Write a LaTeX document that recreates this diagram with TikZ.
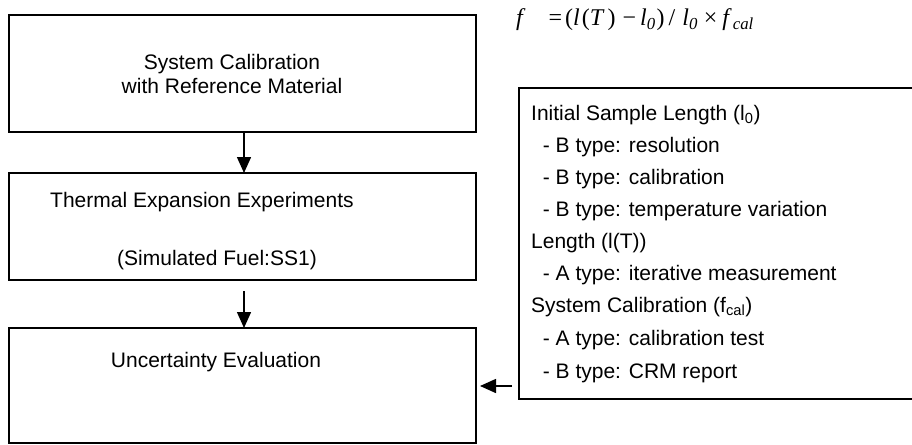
\documentclass[tikz,border=0pt]{standalone}
\usepackage{fontspec}
\setmainfont{Liberation Sans}
\newfontfamily\formfont{Liberation Serif}
\usetikzlibrary{arrows.meta}
\tikzset{
  box/.style={draw, line width=1.5pt, inner sep=0pt, outer sep=0pt},
  lbl/.style={inner sep=0pt, font=\fontsize{21}{24}\selectfont},
  arr/.style={line width=1.5pt, -{Triangle[width=14pt,length=16pt]}}
}
\begin{document}
\begin{tikzpicture}[x=1pt,y=-1pt]
\useasboundingbox (0,0) rectangle (912,444);
% left boxes
\node[box, minimum width=467pt, minimum height=117pt] (b1) at (242.5,73.5) {};
\node[box, minimum width=467pt, minimum height=107pt] (b2) at (242.5,226.5) {};
\node[box, minimum width=467pt, minimum height=115pt] (b3) at (242.5,385.5) {};
% texts of left boxes
\node[lbl, align=center, font=\fontsize{21}{23.5}\selectfont, anchor=base] (t1) at (232,93) {System Calibration\\with Reference Material};
\node[lbl, anchor=base west] (t2) at (50,207) {Thermal Expansion Experiments};
\node[lbl, anchor=base] (t3) at (217,265) {(Simulated Fuel:SS1)};
\node[lbl, anchor=base] (t4) at (216,367) {Uncertainty Evaluation};
% right box
\node[box, minimum width=420pt, minimum height=311pt] (notes) at (729,243.5) {};
\node[lbl, anchor=base west] (n1) at (531,120) {Initial Sample Length (l\textsubscript{0})};
\node[lbl, anchor=base west] (n2) at (531,152) {\ \ - B type: resolution};
\node[lbl, anchor=base west] (n3) at (531,184) {\ \ - B type: calibration};
\node[lbl, anchor=base west] (n4) at (531,216) {\ \ - B type: temperature variation};
\node[lbl, anchor=base west] (n5) at (531,248) {Length (l(T))};
\node[lbl, anchor=base west] (n6) at (531,280) {\ \ - A type: iterative measurement};
\node[lbl, anchor=base west] (n7) at (531,312) {System Calibration (f\textsubscript{cal})};
\node[lbl, anchor=base west] (n8) at (531,345) {\ \ - A type: calibration test};
\node[lbl, anchor=base west] (n9) at (531,378) {\ \ - B type: CRM report};
% formula
\node[inner sep=0pt, anchor=base west, font=\formfont\fontsize{24}{26}\selectfont] (eq) at (516,26)
  {\textit{f}\kern23pt=\kern3pt(\textit{l}\kern2pt(\textit{T}\kern3pt)\kern7pt\textminus\kern4pt\textit{l}\textsubscript{\textit{0}}\kern1pt)\kern4pt/\kern7pt\textit{l}\textsubscript{\textit{0}}\kern6pt×\kern5pt\textit{f}\kern1pt\textsubscript{\textit{cal}}};
% arrows
\draw[arr] (b1.south -| 244,0) -- (b2.north -| 244,0);
\draw[arr] (b2.south -| 244,0) ++(0,11) -- (b3.north -| 244,0);
\coordinate (a3) at (512,386);
\draw[arr] (a3) -- (b3.east |- a3) [shorten >=4pt];
\end{tikzpicture}
\end{document}
